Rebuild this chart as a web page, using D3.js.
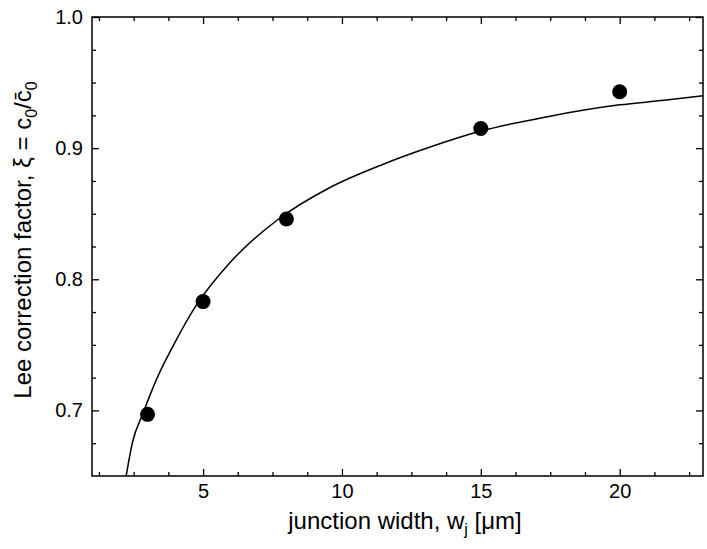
<!DOCTYPE html>
<html>
<head>
<meta charset="utf-8">
<script src="https://cdn.jsdelivr.net/npm/d3@7"></script>
<style>
body { margin: 0; background: #fff; }
svg text { font-family: Arial, "Liberation Sans", sans-serif; fill: #000; }
</style>
</head>
<body>
<svg width="707" height="549"></svg>
<script>
// measured points
var junctionWidth = [3, 5, 8, 15, 20];
var leeFactor = [0.697, 0.783, 0.846, 0.915, 0.943];

// fit curve
var fitWidth = [2.23, 2.45, 2.84, 3.35, 3.94, 4.78, 5.98, 7.66, 9.57, 11.4, 13.2, 15.0, 17.4, 20.0, 21.6, 23.0];
var fitFactor = [0.650, 0.675, 0.698, 0.725, 0.750, 0.781, 0.813, 0.845, 0.870, 0.887, 0.901, 0.913, 0.924, 0.933, 0.9365, 0.940];

var xTicks = [5, 10, 15, 20];
var yTicks = [0.7, 0.8, 0.9, 1.0];

var svg = d3.select("svg"),
    margin = {top: 17, right: 4, bottom: 73, left: 92},
    width = +svg.attr("width") - margin.left - margin.right,
    height = +svg.attr("height") - margin.top - margin.bottom;

var x = d3.scaleLinear().domain([1, 23]).range([0, width]);
var y = d3.scaleLinear().domain([0.65, 1.0]).range([height, 0]);

var g = svg.append("g").attr("transform", "translate(" + margin.left + "," + margin.top + ")");

var xMinor = d3.range(1.25, 23, 1.25).filter(function(v) { return xTicks.indexOf(v) < 0; });
var yMinor = d3.range(0.675, 1.0, 0.025).filter(function(v) {
  return yTicks.every(function(t) { return Math.abs(t - v) > 1e-6; });
});

function styleAxis(sel) {
  sel.select(".domain").remove();
  sel.selectAll("line").attr("stroke", "#000").attr("stroke-width", 1.3);
  sel.selectAll("text").style("font-size", "20px").attr("font-family", null);
}

// bottom / top
g.append("g").attr("transform", "translate(0," + height + ")")
  .call(d3.axisBottom(x).tickValues(xTicks).tickSize(-7).tickSizeOuter(0).tickPadding(8).tickFormat(d3.format("d")))
  .call(styleAxis);
g.append("g").attr("transform", "translate(0," + height + ")")
  .call(d3.axisBottom(x).tickValues(xMinor).tickSize(-4).tickSizeOuter(0).tickFormat(""))
  .call(styleAxis);
g.append("g")
  .call(d3.axisTop(x).tickValues(xTicks).tickSize(-7).tickSizeOuter(0).tickFormat(""))
  .call(styleAxis);
g.append("g")
  .call(d3.axisTop(x).tickValues(xMinor).tickSize(-4).tickSizeOuter(0).tickFormat(""))
  .call(styleAxis);

// left / right
g.append("g")
  .call(d3.axisLeft(y).tickValues(yTicks).tickSize(-7).tickSizeOuter(0).tickPadding(9).tickFormat(d3.format(".1f")))
  .call(styleAxis);
g.append("g")
  .call(d3.axisLeft(y).tickValues(yMinor).tickSize(-4).tickSizeOuter(0).tickFormat(""))
  .call(styleAxis);
g.append("g").attr("transform", "translate(" + width + ",0)")
  .call(d3.axisRight(y).tickValues(yTicks).tickSize(-7).tickSizeOuter(0).tickFormat(""))
  .call(styleAxis);
g.append("g").attr("transform", "translate(" + width + ",0)")
  .call(d3.axisRight(y).tickValues(yMinor).tickSize(-4).tickSizeOuter(0).tickFormat(""))
  .call(styleAxis);

// frame
g.append("rect")
  .attr("width", width).attr("height", height)
  .attr("fill", "none").attr("stroke", "#000").attr("stroke-width", 1.5);

g.append("clipPath").attr("id", "clip")
  .append("rect").attr("width", width).attr("height", height);

var fit = fitWidth.map(function(w, i) { return [w, fitFactor[i]]; });
var line = d3.line()
  .x(function(d) { return x(d[0]); })
  .y(function(d) { return y(d[1]); })
  .curve(d3.curveMonotoneX);

g.append("path")
  .datum(fit)
  .attr("clip-path", "url(#clip)")
  .attr("fill", "none")
  .attr("stroke", "#000")
  .attr("stroke-width", 1.5)
  .attr("d", line);

g.selectAll("circle.pt")
  .data(junctionWidth)
  .enter().append("circle")
  .attr("class", "pt")
  .attr("cx", function(d) { return x(d); })
  .attr("cy", function(d, i) { return y(leeFactor[i]); })
  .attr("r", 7.5)
  .attr("fill", "#000");

// x title
var xt = svg.append("text")
  .attr("x", 405)
  .attr("y", 529)
  .attr("text-anchor", "middle")
  .style("font-size", "24px");
xt.append("tspan").text("junction width, w");
xt.append("tspan").attr("dy", 6).style("font-size", "16px").text("j");
xt.append("tspan").attr("dy", -6).text(" [\u03bcm]");

// y title
var yt = svg.append("text")
  .attr("transform", "translate(31,240) rotate(-90)")
  .attr("text-anchor", "middle")
  .style("font-size", "24px");
yt.append("tspan").text("Lee correction factor, \u03be = c");
yt.append("tspan").attr("dy", 6).style("font-size", "16px").text("0");
yt.append("tspan").attr("dy", -6).text("/c\u0304");
yt.append("tspan").attr("dy", 6).style("font-size", "16px").text("0");
</script>
</body>
</html>
